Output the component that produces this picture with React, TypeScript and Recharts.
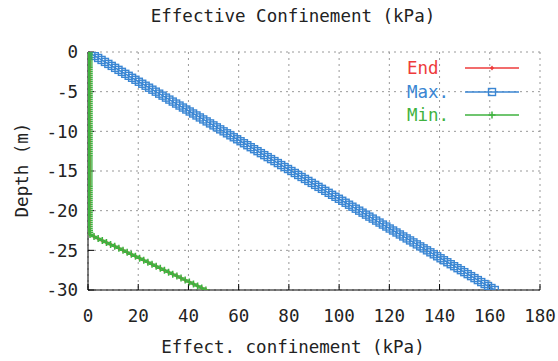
import { CartesianGrid, ComposedChart, Scatter, XAxis, YAxis } from 'recharts';

const depths = [
	0, -0.25, -0.5, -0.75, -1, -1.25, -1.5, -1.75, -2, -2.25, -2.5, -2.75, -3, -3.25, -3.5, -3.75, -4, -4.25, -4.5, -4.75,
	-5, -5.25, -5.5, -5.75, -6, -6.25, -6.5, -6.75, -7, -7.25, -7.5, -7.75, -8, -8.25, -8.5, -8.75, -9, -9.25, -9.5, -9.75,
	-10, -10.25, -10.5, -10.75, -11, -11.25, -11.5, -11.75, -12, -12.25, -12.5, -12.75, -13, -13.25, -13.5, -13.75, -14, -14.25, -14.5, -14.75,
	-15, -15.25, -15.5, -15.75, -16, -16.25, -16.5, -16.75, -17, -17.25, -17.5, -17.75, -18, -18.25, -18.5, -18.75, -19, -19.25, -19.5, -19.75,
	-20, -20.25, -20.5, -20.75, -21, -21.25, -21.5, -21.75, -22, -22.25, -22.5, -22.75, -23, -23.25, -23.5, -23.75, -24, -24.25, -24.5, -24.75,
	-25, -25.25, -25.5, -25.75, -26, -26.25, -26.5, -26.75, -27, -27.25, -27.5, -27.75, -28, -28.25, -28.5, -28.75, -29, -29.25, -29.5, -29.75,
	-30,
];

const endValues = [
	0.5, 0.5, 0.5, 0.5, 0.5, 0.5, 0.5, 0.5, 0.5, 0.5, 0.5, 0.5, 0.5, 0.5, 0.5, 0.5, 0.5, 0.5, 0.5, 0.5,
	0.5, 0.5, 0.5, 0.5, 0.5, 0.5, 0.5, 0.5, 0.5, 0.5, 0.5, 0.5, 0.5, 0.5, 0.5, 0.5, 0.5, 0.5, 0.5, 0.5,
	0.5, 0.5, 0.5, 0.5, 0.5, 0.5, 0.5, 0.5, 0.5, 0.5, 0.5, 0.5, 0.5, 0.5, 0.5, 0.5, 0.5, 0.5, 0.5, 0.5,
	0.5, 0.5, 0.5, 0.5, 0.5, 0.5, 0.5, 0.5, 0.5, 0.5, 0.5, 0.5, 0.5, 0.5, 0.5, 0.5, 0.5, 0.5, 0.5, 0.5,
	0.5, 0.5, 0.5, 0.5, 0.5, 0.5, 0.5, 0.5, 0.5, 0.5, 0.6, 0.7, 0.8, 2.4, 4.05, 5.7, 7.35, 9.0, 10.65, 12.3,
	13.95, 15.6, 17.25, 18.9, 20.55, 22.2, 23.85, 25.5, 27.15, 28.8, 30.45, 32.1, 33.75, 35.4, 37.05, 38.7, 40.35, 42.0, 43.65, 45.3,
	46.95,
];

const maxValues = [
	0, 1.35, 2.7, 4.05, 5.4, 6.75, 8.1, 9.45, 10.8, 12.15, 13.5, 14.85, 16.2, 17.55, 18.9, 20.25, 21.6, 22.95, 24.3, 25.65,
	27, 28.35, 29.7, 31.05, 32.4, 33.75, 35.1, 36.45, 37.8, 39.15, 40.5, 41.85, 43.2, 44.55, 45.9, 47.25, 48.6, 49.95, 51.3, 52.65,
	54, 55.35, 56.7, 58.05, 59.4, 60.75, 62.1, 63.45, 64.8, 66.15, 67.5, 68.85, 70.2, 71.55, 72.9, 74.25, 75.6, 76.95, 78.3, 79.65,
	81, 82.35, 83.7, 85.05, 86.4, 87.75, 89.1, 90.45, 91.8, 93.15, 94.5, 95.85, 97.2, 98.55, 99.9, 101.25, 102.6, 103.95, 105.3, 106.65,
	108, 109.35, 110.7, 112.05, 113.4, 114.75, 116.1, 117.45, 118.8, 120.15, 121.5, 122.85, 124.2, 125.55, 126.9, 128.25, 129.6, 130.95, 132.3, 133.65,
	135, 136.35, 137.7, 139.05, 140.4, 141.75, 143.1, 144.45, 145.8, 147.15, 148.5, 149.85, 151.2, 152.55, 153.9, 155.25, 156.6, 157.95, 159.3, 160.65,
	162,
];

const minValues = [
	0.5, 0.5, 0.5, 0.5, 0.5, 0.5, 0.5, 0.5, 0.5, 0.5, 0.5, 0.5, 0.5, 0.5, 0.5, 0.5, 0.5, 0.5, 0.5, 0.5,
	0.5, 0.5, 0.5, 0.5, 0.5, 0.5, 0.5, 0.5, 0.5, 0.5, 0.5, 0.5, 0.5, 0.5, 0.5, 0.5, 0.5, 0.5, 0.5, 0.5,
	0.5, 0.5, 0.5, 0.5, 0.5, 0.5, 0.5, 0.5, 0.5, 0.5, 0.5, 0.5, 0.5, 0.5, 0.5, 0.5, 0.5, 0.5, 0.5, 0.5,
	0.5, 0.5, 0.5, 0.5, 0.5, 0.5, 0.5, 0.5, 0.5, 0.5, 0.5, 0.5, 0.5, 0.5, 0.5, 0.5, 0.5, 0.5, 0.5, 0.5,
	0.5, 0.5, 0.5, 0.5, 0.5, 0.5, 0.5, 0.5, 0.5, 0.5, 0.6, 0.7, 0.8, 2.4, 4.05, 5.7, 7.35, 9.0, 10.65, 12.3,
	13.95, 15.6, 17.25, 18.9, 20.55, 22.2, 23.85, 25.5, 27.15, 28.8, 30.45, 32.1, 33.75, 35.4, 37.05, 38.7, 40.35, 42.0, 43.65, 45.3,
	46.95,
];

const xTicks = [0, 20, 40, 60, 80, 100, 120, 140, 160, 180];
const yTicks = [0, -5, -10, -15, -20, -25, -30];

const FONT = '"DejaVu Sans Mono", monospace';
const TEXT = '#222';

const series = [
	{ name: 'End', color: '#ee3b3b', values: endValues, marker: 'dot' },
	{ name: 'Max.', color: '#3a86d3', values: maxValues, marker: 'square' },
	{ name: 'Min.', color: '#3fb23f', values: minValues, marker: 'plus' },
];

function Marker({ cx, cy, kind, color }) {
	if (cx == null || cy == null) return null;
	if (kind === 'square') {
		return <rect x={cx - 3.5} y={cy - 3.5} width={7} height={7} fill="none" stroke={color} strokeWidth={1.4} />;
	}
	if (kind === 'plus') {
		return <path d={`M${cx - 3.5},${cy}H${cx + 3.5}M${cx},${cy - 3.5}V${cy + 3.5}`} stroke={color} strokeWidth={1.5} fill="none" />;
	}
	return <path d={`M${cx},${cy - 2.5}L${cx + 2},${cy}L${cx},${cy + 2.5}L${cx - 2},${cy}Z`} fill={color} stroke="none" />;
}

const tickStyle = { fontFamily: FONT, fontSize: 17.5, fill: TEXT };

export default function App() {
	return (
		<div style={{ position: 'absolute', left: 0, top: 0, width: 558, height: 361, background: '#fff' }}>
			<ComposedChart width={558} height={361} margin={{ top: 52, right: 18, bottom: 0, left: 0 }}>
				<CartesianGrid stroke="#999" strokeDasharray="2 4" />
				<XAxis
					type="number"
					dataKey="x"
					domain={[0, 180]}
					ticks={xTicks}
					allowDataOverflow
					height={71}
					stroke="#000"
					tickSize={-6}
					tickMargin={26}
					tick={tickStyle}
				/>
				<XAxis
					xAxisId="top"
					orientation="top"
					type="number"
					dataKey="x"
					domain={[0, 180]}
					ticks={xTicks}
					allowDataOverflow
					height={0}
					stroke="#000"
					tickSize={6}
					tickFormatter={() => ''}
				/>
				<YAxis
					type="number"
					dataKey="y"
					domain={[-30, 0]}
					ticks={yTicks}
					allowDataOverflow
					width={88}
					stroke="#000"
					tickSize={-6}
					tickMargin={16}
					tick={tickStyle}
				/>
				<YAxis
					yAxisId="right"
					orientation="right"
					type="number"
					dataKey="y"
					domain={[-30, 0]}
					ticks={yTicks}
					allowDataOverflow
					width={0}
					stroke="#000"
					tickSize={6}
					tickFormatter={() => ''}
				/>
				{series.map((s) => (
					<Scatter
						key={s.name}
						name={s.name}
						data={depths.map((d, i) => ({ x: s.values[i], y: d }))}
						line={{ stroke: s.color, strokeWidth: 1.5 }}
						lineType="joint"
						isAnimationActive={false}
						shape={(p) => <Marker cx={p.cx} cy={p.cy} kind={s.marker} color={s.color} />}
					/>
				))}
			</ComposedChart>

			<div style={{ position: 'absolute', left: 0, width: 586, top: 6, textAlign: 'center', fontFamily: FONT, fontSize: 17.5, color: TEXT }}>
				Effective Confinement (kPa)
			</div>
			<div style={{ position: 'absolute', left: 0, width: 586, top: 337, textAlign: 'center', fontFamily: FONT, fontSize: 17.5, color: TEXT }}>
				Effect. confinement (kPa)
			</div>
			<div
				style={{
					position: 'absolute',
					left: 22,
					top: 170,
					transform: 'translate(-50%, -50%) rotate(-90deg)',
					whiteSpace: 'nowrap',
					fontFamily: FONT,
					fontSize: 17.5,
					color: TEXT,
				}}
			>
				Depth (m)
			</div>

			{series.map((s, i) => (
				<div key={s.name} style={{ position: 'absolute', left: 407, top: 57 + i * 23.5, height: 22, display: 'flex', alignItems: 'center' }}>
					<span style={{ width: 58, fontFamily: FONT, fontSize: 17.5, color: s.color }}>{s.name}</span>
					<svg width={56} height={22}>
						<line x1={0} y1={11} x2={54} y2={11} stroke={s.color} strokeWidth={1.5} />
						<Marker cx={27} cy={11} kind={s.marker} color={s.color} />
					</svg>
				</div>
			))}
		</div>
	);
}
